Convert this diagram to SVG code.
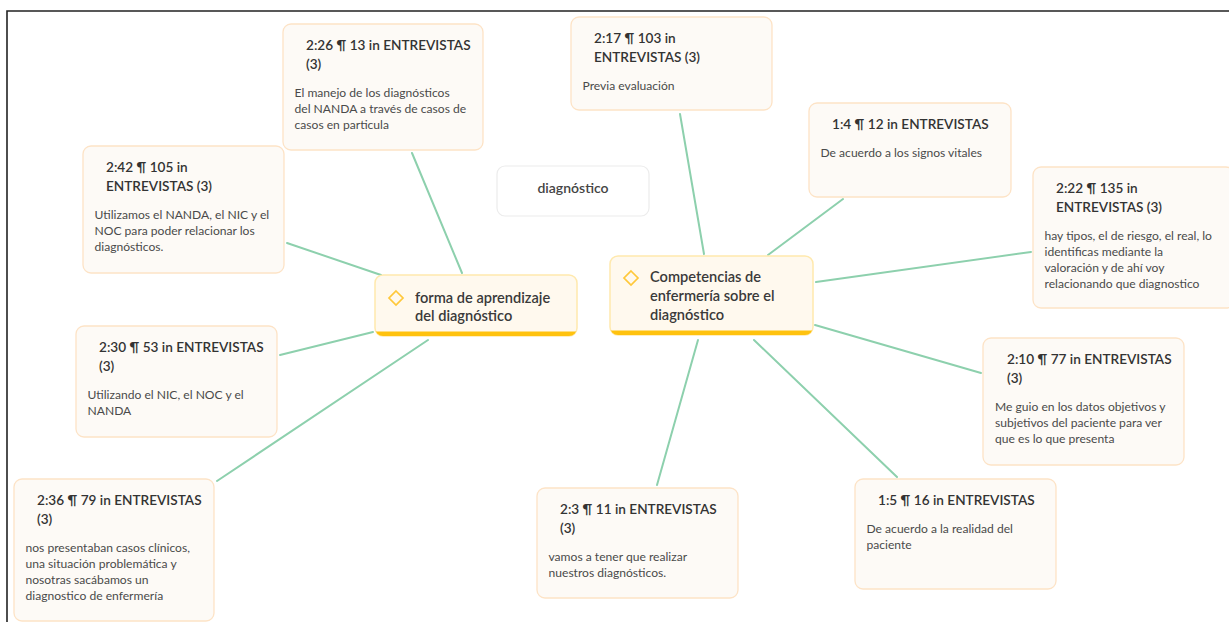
<svg xmlns="http://www.w3.org/2000/svg" width="1229" height="622" viewBox="0 0 1229 622">
<style>
.bg{fill:#ffffff}
.frame{fill:none;stroke:#222;stroke-width:1.6}
.conn line{stroke:#8dd0ad;stroke-width:2;stroke-linecap:round}
.q rect{fill:#fdfaf6;stroke:#fde3c6;stroke-width:1.3}
.t{font-family:Lato,"Noto Sans",sans-serif;font-size:13.6px;font-weight:600;fill:#333}
.b{font-family:Lato,"Noto Sans",sans-serif;font-size:12.1px;fill:#4a4a4a}
.c .box{fill:#fff9ee;stroke:#ffe9ad;stroke-width:1.5}
.c .bar{fill:#ffc20e}
.c polygon{fill:none;stroke:#ffc83a;stroke-width:1.7}
.ct{font-family:Lato,"Noto Sans",sans-serif;font-size:14.6px;font-weight:600;fill:#3a3a3a}
.plain rect{fill:#fff;stroke:#ececec;stroke-width:1.2}
</style>
<defs>
<clipPath id="clipF"><rect x="375" y="275" width="202" height="61" rx="8"/></clipPath>
<clipPath id="clipC"><rect x="610" y="256" width="203" height="79" rx="8"/></clipPath>
</defs>
<rect class="bg" x="0" y="0" width="1229" height="622"/>
<path class="frame" d="M7,622 V11 H1229"/>

<g id="connectors" class="conn">
<line x1="462" y1="273" x2="412" y2="153"/>
<line x1="381" y1="275" x2="287" y2="243"/>
<line x1="373" y1="332" x2="280" y2="355"/>
<line x1="428" y1="340" x2="217" y2="481"/>
<line x1="704" y1="254" x2="680" y2="114"/>
<line x1="768" y1="255" x2="843" y2="199"/>
<line x1="816" y1="282" x2="1031" y2="252"/>
<line x1="815" y1="325" x2="981" y2="373"/>
<line x1="754" y1="340" x2="897" y2="477"/>
<line x1="698" y1="340" x2="657" y2="485"/>
</g>

<g id="node-diagnostico" class="plain">
<rect x="497" y="166" width="152" height="50" rx="8"/>
<text class="t" x="573" y="193" text-anchor="middle" style="fill:#444;font-size:14px">diagnóstico</text>
</g>

<g id="node-forma" class="c">
<rect class="box" x="375" y="275" width="202" height="61" rx="8"/>
<rect class="bar" x="375" y="331.5" width="202" height="5" clip-path="url(#clipF)"/>
<polygon points="396,291 403,298 396,305 389,298"/>
<text class="ct" x="415" y="303">forma de aprendizaje</text>
<text class="ct" x="415" y="321">del diagnóstico</text>
</g>

<g id="node-competencias" class="c">
<rect class="box" x="610" y="256" width="203" height="79" rx="8"/>
<rect class="bar" x="610" y="330.5" width="203" height="5" clip-path="url(#clipC)"/>
<polygon points="631,271 638,278 631,285 624,278"/>
<text class="ct" x="650" y="282">Competencias de</text>
<text class="ct" x="650" y="301">enfermería sobre el</text>
<text class="ct" x="650" y="320">diagnóstico</text>
</g>

<g id="node-2-26" class="q">
<rect x="283" y="24" width="200" height="126" rx="8"/>
<text class="t" x="306" y="50">2:26 ¶ 13 in ENTREVISTAS</text>
<text class="t" x="306" y="69">(3)</text>
<text class="b" x="294.5" y="97">El manejo de los diagnósticos</text>
<text class="b" x="294.5" y="113">del NANDA a través de casos de</text>
<text class="b" x="294.5" y="129">casos en particula</text>
</g>

<g id="node-2-42" class="q">
<rect x="83" y="146" width="201" height="127" rx="8"/>
<text class="t" x="106" y="172">2:42 ¶ 105 in</text>
<text class="t" x="106" y="191">ENTREVISTAS (3)</text>
<text class="b" x="94.5" y="219">Utilizamos el NANDA, el NIC y el</text>
<text class="b" x="94.5" y="235">NOC para poder relacionar los</text>
<text class="b" x="94.5" y="251">diagnósticos.</text>
</g>

<g id="node-2-17" class="q">
<rect x="571" y="17" width="201" height="93" rx="8"/>
<text class="t" x="594" y="43">2:17 ¶ 103 in</text>
<text class="t" x="594" y="62">ENTREVISTAS (3)</text>
<text class="b" x="582.5" y="90">Previa evaluación</text>
</g>

<g id="node-1-4" class="q">
<rect x="809" y="103" width="202" height="94" rx="8"/>
<text class="t" x="832" y="129">1:4 ¶ 12 in ENTREVISTAS</text>
<text class="b" x="820.5" y="157">De acuerdo a los signos vitales</text>
</g>

<g id="node-2-22" class="q">
<rect x="1033" y="167" width="201" height="141" rx="8"/>
<text class="t" x="1056" y="193">2:22 ¶ 135 in</text>
<text class="t" x="1056" y="212">ENTREVISTAS (3)</text>
<text class="b" x="1044.5" y="240">hay tipos, el de riesgo, el real, lo</text>
<text class="b" x="1044.5" y="256">identificas mediante la</text>
<text class="b" x="1044.5" y="272">valoración y de ahí voy</text>
<text class="b" x="1044.5" y="288">relacionando que diagnostico</text>
</g>

<g id="node-2-30" class="q">
<rect x="76" y="326" width="201" height="111" rx="8"/>
<text class="t" x="99" y="352">2:30 ¶ 53 in ENTREVISTAS</text>
<text class="t" x="99" y="371">(3)</text>
<text class="b" x="87.5" y="399">Utilizando el NIC, el NOC y el</text>
<text class="b" x="87.5" y="415">NANDA</text>
</g>

<g id="node-2-36" class="q">
<rect x="14" y="479" width="200" height="142" rx="8"/>
<text class="t" x="37" y="505">2:36 ¶ 79 in ENTREVISTAS</text>
<text class="t" x="37" y="524">(3)</text>
<text class="b" x="25.5" y="552">nos presentaban casos clínicos,</text>
<text class="b" x="25.5" y="568">una situación problemática y</text>
<text class="b" x="25.5" y="584">nosotras sacábamos un</text>
<text class="b" x="25.5" y="600">diagnostico de enfermería</text>
</g>

<g id="node-2-3" class="q">
<rect x="537" y="488" width="201" height="110" rx="8"/>
<text class="t" x="560" y="514">2:3 ¶ 11 in ENTREVISTAS</text>
<text class="t" x="560" y="533">(3)</text>
<text class="b" x="548.5" y="561">vamos a tener que realizar</text>
<text class="b" x="548.5" y="577">nuestros diagnósticos.</text>
</g>

<g id="node-2-10" class="q">
<rect x="983" y="338" width="201" height="127" rx="8"/>
<text class="t" x="1007" y="364">2:10 ¶ 77 in ENTREVISTAS</text>
<text class="t" x="1007" y="383">(3)</text>
<text class="b" x="995" y="411">Me guio en los datos objetivos y</text>
<text class="b" x="995" y="427">subjetivos del paciente para ver</text>
<text class="b" x="995" y="443">que es lo que presenta</text>
</g>

<g id="node-1-5" class="q">
<rect x="855" y="479" width="201" height="110" rx="8"/>
<text class="t" x="878" y="505">1:5 ¶ 16 in ENTREVISTAS</text>
<text class="b" x="866.5" y="533">De acuerdo a la realidad del</text>
<text class="b" x="866.5" y="549">paciente</text>
</g>
</svg>
